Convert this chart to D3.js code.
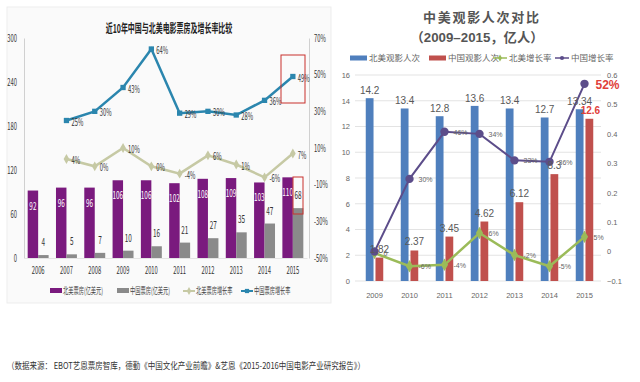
<!DOCTYPE html>
<html><head><meta charset="utf-8">
<script src="https://cdn.jsdelivr.net/npm/d3@7"></script>
<style>
body{margin:0;background:#fff}
svg{display:block}
text{font-family:"Noto Sans CJK SC","Liberation Sans",sans-serif}
.rc text{font-family:"Liberation Sans","Noto Sans CJK SC",sans-serif}
</style>
</head><body>
<svg id="c" width="640" height="382"></svg>
<script>
// ---------- Left chart data ----------
const titleL = "近10年中国与北美电影票房及增长率比较";
const yearsL = ["2006","2007","2008","2009","2010","2011","2012","2013","2014","2015"];
const naBoxOffice = [92,96,96,106,106,102,108,109,103,110];
const cnBoxOffice = [4,5,7,10,16,21,27,35,47,68];
const naBoxGrowth = [null,4,0,10,0,-4,6,1,-6,7];
const cnBoxGrowth = [null,25,30,43,64,29,30,28,36,49];
const leftTicksL = [0,60,120,180,240,300];
const rightTicksL = [-50,-30,-10,10,30,50,70];
const legendL = ["北美票房(亿美元)","中国票房(亿美元)","北美票房增长率","中国票房增长率"];

// ---------- Right chart data ----------
const titleR1 = "中美观影人次对比";
const titleR2 = "（2009–2015，亿人）";
const yearsR = ["2009","2010","2011","2012","2013","2014","2015"];
const naAdmissions = [14.2,13.4,12.8,13.6,13.4,12.7,13.34];
const cnAdmissions = [1.82,2.37,3.45,4.62,6.12,8.3,12.6];
const naAdmGrowth = [-0.005,-0.05,-0.045,0.063,-0.012,-0.05,0.05];
const naAdmGrowthLabels = ["0","-6%","-4%","6%","-2%","-5%","5%"];
const cnAdmGrowth = [0.0,0.247,0.407,0.40,0.31,0.305,0.57];
const cnAdmGrowthLabels = ["","30%","46%","34%","33%","36%","52%"];
const leftTicksR = [0,2,4,6,8,10,12,14,16];
const rightTicksR = [-0.1,0,0.1,0.2,0.3,0.4,0.5,0.6];
const legendR = ["北美观影人次","中国观影人次","北美增长率","中国增长率"];

const sourceText = "（数据来源： EBOT艺恩票房智库，德勤《中国文化产业前瞻》&艺恩《2015-2016中国电影产业研究报告》）";

const svg = d3.select("#c");

// ================= LEFT CHART =================
const L = svg.append("g").attr("class","lc");
L.append("rect").attr("x",7).attr("y",7).attr("width",324).attr("height",296)
  .attr("fill","#fafafa").attr("stroke","#ededed");

const cPurple="#7a1a7e", cGrey="#8a8a8a", cBlue="#2b86ae", cPale="#c6c9a4";
const xL = d3.scaleBand().domain(yearsL).range([24,307]).paddingInner(0.26).paddingOuter(0.13);
const xL1 = d3.scaleBand().domain([0,1]).range([0,xL.bandwidth()]);
const yL = d3.scaleLinear().domain([0,300]).range([258,38]);
const yL2 = d3.scaleLinear().domain([-50,70]).range([258,38]);
const cxL = d => xL(d)+xL.bandwidth()/2;

L.append("text").attr("x",169).attr("y",33).attr("text-anchor","middle")
  .attr("font-size",12).attr("font-weight","bold").attr("fill","#222").text(titleL);

// axes
const axL = L.append("g").attr("transform","translate(24,0)")
  .call(d3.axisLeft(yL).tickValues(leftTicksL).tickSize(0).tickPadding(7));
const axR = L.append("g").attr("transform","translate(309,0)")
  .call(d3.axisRight(yL2).tickValues(rightTicksL).tickSize(0).tickPadding(5).tickFormat(d=>d+"%"));
const axB = L.append("g").attr("transform","translate(0,258)")
  .call(d3.axisBottom(xL).tickSize(0).tickPadding(9));
[axL,axR].forEach(a=>{a.select(".domain").attr("stroke","#d0d0d0");});
axB.select(".domain").attr("stroke","#e4e4e4");
L.selectAll(".tick text").attr("font-size",10).attr("fill","#333")
  .attr("font-family","Liberation Sans, sans-serif");

// bars
yearsL.forEach((yr,i)=>{
  L.append("rect").attr("x",xL(yr)+xL1(0)).attr("width",xL1.bandwidth())
    .attr("y",yL(naBoxOffice[i])).attr("height",yL(0)-yL(naBoxOffice[i])).attr("fill",cPurple);
  L.append("rect").attr("x",xL(yr)+xL1(1)).attr("width",xL1.bandwidth())
    .attr("y",yL(cnBoxOffice[i])).attr("height",yL(0)-yL(cnBoxOffice[i])).attr("fill",cGrey);
  L.append("text").attr("x",xL(yr)+xL1(0)+xL1.bandwidth()/2).attr("y",yL(naBoxOffice[i])+19)
    .attr("text-anchor","middle").attr("font-size",11).attr("fill","#fff").attr("font-family","Liberation Sans")
    .text(naBoxOffice[i]);
  L.append("text").attr("x",xL(yr)+xL1(1)+xL1.bandwidth()/2).attr("y",yL(cnBoxOffice[i])-9)
    .attr("text-anchor","middle").attr("font-size",11).attr("fill","#333").attr("font-family","Liberation Sans")
    .text(cnBoxOffice[i]);
});

// lines
function lineSeries(g, vals, ys, color, w, marker, labels, fs){
  const pts = vals.map((v,i)=>v==null?null:[cxL(yearsL[i]), ys(v), v]).filter(p=>p);
  g.append("path").attr("d",d3.line()(pts.map(p=>[p[0],p[1]])))
    .attr("fill","none").attr("stroke",color).attr("stroke-width",w);
  pts.forEach(p=>{
    g.append("path").attr("transform",`translate(${p[0]},${p[1]})`)
      .attr("d",d3.symbol().type(marker).size(28)()).attr("fill",color);
    g.append("text").attr("x",p[0]+5).attr("y",p[1]+5).attr("font-size",fs).attr("fill","#333")
      .attr("font-family","Liberation Sans").text(p[2]+"%");
  });
}
lineSeries(L, naBoxGrowth, yL2, cPale, 2.5, d3.symbolDiamond, null, 10);
lineSeries(L, cnBoxGrowth, yL2, cBlue, 2.5, d3.symbolSquare, null, 10);

// red annotation boxes
L.append("rect").attr("x",281).attr("y",55).attr("width",24).attr("height",48)
  .attr("fill","none").attr("stroke","#c8302c").attr("stroke-width",1);
L.append("rect").attr("x",293).attr("y",177).attr("width",10).attr("height",37)
  .attr("fill","none").attr("stroke","#c8302c").attr("stroke-width",1);

// legend
const legXs = [50,117,183,241];
legendL.forEach((t,i)=>{
  const x=legXs[i], y=291;
  if(i<2){
    L.append("rect").attr("x",x).attr("y",y-3).attr("width",12).attr("height",5).attr("fill",i==0?cPurple:cGrey);
  } else {
    const c = i==2?cPale:cBlue;
    L.append("line").attr("x1",x).attr("x2",x+12).attr("y1",y).attr("y2",y).attr("stroke",c).attr("stroke-width",2);
    L.append("path").attr("transform",`translate(${x+6},${y})`)
      .attr("d",d3.symbol().type(i==2?d3.symbolDiamond:d3.symbolSquare).size(18)()).attr("fill",c);
  }
  L.append("text").attr("x",x+13).attr("y",y+3).attr("font-size",9).attr("fill","#444").text(t);
});

// condense left chart text (original is horizontally squeezed)
L.selectAll("text").each(function(){
  const w=this.getComputedTextLength();
  d3.select(this).attr("textLength",w*0.58).attr("lengthAdjust","spacingAndGlyphs");
});

// ================= RIGHT CHART =================
const R = svg.append("g").attr("class","rc");
const cB="#4f7fbd", cR="#c0504d", cG="#9bbb59", cP="#5c4d8a";
const xR = d3.scaleBand().domain(yearsR).range([357,602]).paddingInner(0.5).paddingOuter(0.25);
const xR1 = d3.scaleBand().domain([0,1]).range([0,xR.bandwidth()]).paddingInner(0.2);
const yR = d3.scaleLinear().domain([0,16]).range([281,75]);
const yR2 = d3.scaleLinear().domain([-0.1,0.6]).range([281,75]);
const cxR = d => xR(d)+xR.bandwidth()/2;

R.append("text").attr("x",481).attr("y",22).attr("text-anchor","middle").attr("font-size",13)
  .attr("font-family","Noto Sans CJK SC").attr("font-weight","bold").attr("fill","#555")
  .attr("textLength",116).attr("lengthAdjust","spacing").text(titleR1);
R.append("text").attr("x",477).attr("y",42).attr("text-anchor","middle").attr("font-size",13)
  .attr("font-family","Noto Sans CJK SC").attr("font-weight","bold").attr("fill","#555")
  .attr("textLength",133).attr("lengthAdjust","spacingAndGlyphs").text(titleR2);

// grid + axes
R.append("g").selectAll("line").data(leftTicksR).join("line")
  .attr("x1",355).attr("x2",601).attr("y1",d=>yR(d)).attr("y2",d=>yR(d))
  .attr("stroke","#e3e3e3");
const rL = R.append("g").attr("transform","translate(352,0)")
  .call(d3.axisLeft(yR).tickValues(leftTicksR).tickSize(0).tickPadding(2));
const rR = R.append("g").attr("transform","translate(605,0)")
  .call(d3.axisRight(yR2).tickValues(rightTicksR).tickSize(0).tickPadding(2).tickFormat(d=>d3.format("~g")(+d.toFixed(1))));
const rB = R.append("g").attr("transform","translate(0,281)")
  .call(d3.axisBottom(xR).tickSize(0).tickPadding(12));
[rL,rR,rB].forEach(a=>a.select(".domain").remove());
R.selectAll(".tick text").attr("font-size",7.5).attr("fill","#666").attr("font-family","Liberation Sans");

// bars
yearsR.forEach((yr,i)=>{
  const bx = xR(yr)+xR1(0), rx = xR(yr)+xR1(1), bw = xR1.bandwidth();
  R.append("rect").attr("x",bx).attr("width",bw).attr("y",yR(naAdmissions[i]))
    .attr("height",yR(0)-yR(naAdmissions[i])).attr("fill",cB);
  R.append("rect").attr("x",rx).attr("width",bw).attr("y",yR(cnAdmissions[i]))
    .attr("height",yR(0)-yR(cnAdmissions[i])).attr("fill",cR);
});

// lines
function lineR(vals, color, w, marker, msize){
  const pts = vals.map((v,i)=>[cxR(yearsR[i]), yR2(v)]);
  R.append("path").attr("d",d3.line()(pts)).attr("fill","none").attr("stroke",color).attr("stroke-width",w);
  pts.forEach(p=>R.append("path").attr("transform",`translate(${p[0]},${p[1]})`)
    .attr("d",d3.symbol().type(marker).size(msize)()).attr("fill",color));
  return pts;
}
const pG = lineR(naAdmGrowth, cG, 2.5, d3.symbolDiamond, 45);
const pP = lineR(cnAdmGrowth, cP, 2, d3.symbolCircle, 55);

// bar value labels
yearsR.forEach((yr,i)=>{
  const bw = xR1.bandwidth();
  R.append("text").attr("x",xR(yr)+xR1(0)+bw/2).attr("y",yR(naAdmissions[i])-4)
    .attr("text-anchor","middle").attr("font-size",10).attr("fill","#595959").text(naAdmissions[i]);
  const last = i==yearsR.length-1;
  R.append("text").attr("x",xR(yr)+xR1(1)+bw/2+(last?1:0)).attr("y",yR(cnAdmissions[i])-5)
    .attr("text-anchor","middle").attr("font-size",10).attr("font-weight",last?"bold":"normal")
    .attr("fill",last?"#e0403a":"#595959").text(cnAdmissions[i]);
});

// line labels
pG.forEach((p,i)=>{
  R.append("text").attr("x",p[0]+9).attr("y",p[1]+3).attr("font-size",7).attr("fill","#666").text(naAdmGrowthLabels[i]);
});
pP.forEach((p,i)=>{
  const last = i==pP.length-1;
  if(!cnAdmGrowthLabels[i]) return;
  R.append("text").attr("x",p[0]+(last?11:9)).attr("y",p[1]+(last?5:3))
    .attr("font-size",last?12:7).attr("font-weight",last?"bold":"normal")
    .attr("fill",last?"#e0403a":"#666").text(cnAdmGrowthLabels[i]);
});

// legend
const legRX = [350,429,493,555];
legendR.forEach((t,i)=>{
  const x=legRX[i], y=58;
  if(i<2){
    R.append("rect").attr("x",x).attr("y",y-2.5).attr("width",17).attr("height",5).attr("fill",i==0?cB:cR);
  } else {
    const c=i==2?cG:cP;
    R.append("line").attr("x1",x).attr("x2",x+14).attr("y1",y).attr("y2",y).attr("stroke",c).attr("stroke-width",1.5);
    R.append("path").attr("transform",`translate(${x+7},${y})`)
      .attr("d",d3.symbol().type(i==2?d3.symbolDiamond:d3.symbolCircle).size(14)()).attr("fill",c);
  }
  R.append("text").attr("x",x+(i<2?19:16)).attr("y",y+3).attr("font-size",8.5)
    .attr("font-family","Noto Sans CJK SC").attr("fill","#666").text(t);
});

// ================= SOURCE =================
svg.append("text").attr("x",7).attr("y",369).attr("font-size",9).attr("fill","#333")
  .attr("textLength",358).attr("lengthAdjust","spacingAndGlyphs").text(sourceText);
</script>
</body></html>
